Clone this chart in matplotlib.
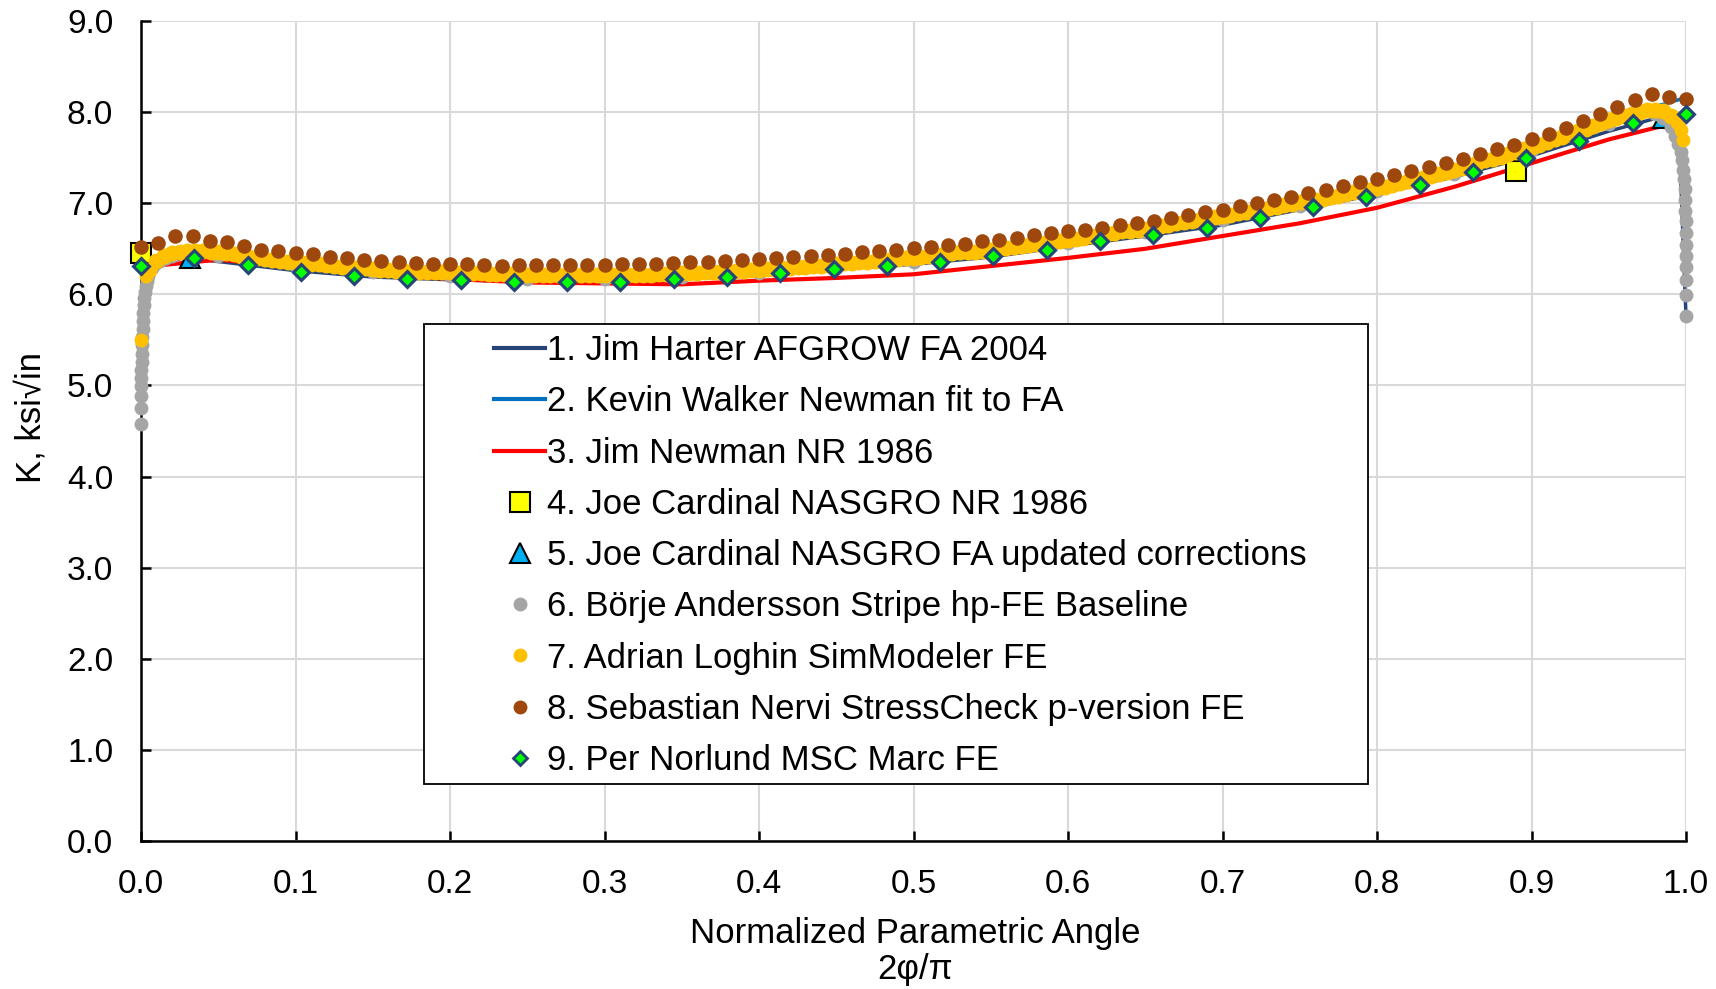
import matplotlib
matplotlib.use("Agg")
import matplotlib.pyplot as plt
from matplotlib.lines import Line2D
from matplotlib.patches import Rectangle
import numpy as np

plt.rcParams['font.family'] = ['Liberation Sans', 'DejaVu Sans']

# 1. Jim Harter AFGROW FA 2004 (line)
harter_x = [0.0, 0.01, 0.03, 0.07, 0.1, 0.15, 0.2, 0.25, 0.3, 0.35, 0.4, 0.45, 0.5,
            0.55, 0.6, 0.65, 0.7, 0.75, 0.8, 0.85, 0.9, 0.95, 0.98, 0.995, 1.0]
harter_k = [6.30, 6.36, 6.40, 6.32, 6.26, 6.19, 6.16, 6.14, 6.14, 6.17, 6.21, 6.28, 6.33,
            6.41, 6.53, 6.64, 6.76, 6.93, 7.10, 7.29, 7.52, 7.79, 7.93, 7.97, 5.76]

# 2. Kevin Walker Newman fit to FA (line)
walker_x = [0.0, 0.01, 0.03, 0.07, 0.1, 0.15, 0.2, 0.25, 0.3, 0.35, 0.4, 0.45, 0.5,
            0.55, 0.6, 0.65, 0.7, 0.75, 0.8, 0.85, 0.9, 0.95, 0.98, 1.0]
walker_k = [6.38, 6.42, 6.48, 6.43, 6.37, 6.30, 6.26, 6.24, 6.23, 6.25, 6.29, 6.35, 6.42,
            6.51, 6.62, 6.74, 6.87, 7.03, 7.19, 7.38, 7.63, 7.92, 8.06, 8.16]

# 3. Jim Newman NR 1986 (line)
newman_x = [0.0, 0.05, 0.1, 0.15, 0.2, 0.25, 0.3, 0.35, 0.4, 0.45, 0.5, 0.55, 0.6,
            0.65, 0.7, 0.75, 0.8, 0.85, 0.9, 0.95, 0.99]
newman_k = [6.30, 6.38, 6.30, 6.22, 6.17, 6.13, 6.12, 6.11, 6.15, 6.18, 6.22, 6.31, 6.40,
            6.50, 6.64, 6.78, 6.95, 7.18, 7.44, 7.70, 7.87]

# 4. Joe Cardinal NASGRO NR 1986
nasgro_nr_x = [0.0, 0.89]
nasgro_nr_k = [6.45, 7.35]

# 5. Joe Cardinal NASGRO FA updated corrections
nasgro_fa_x = [0.032, 0.985]
nasgro_fa_k = [6.40, 7.93]

# 6. Borje Andersson Stripe hp-FE Baseline
stripe_x = [0.0, 0.0, 0.0, 0.0001, 0.0002, 0.0003, 0.0004, 0.0005, 0.0006, 0.0008,
            0.001, 0.0012, 0.0015, 0.0018, 0.0022, 0.0026, 0.003, 0.0036, 0.0044, 0.0055,
            0.007, 0.009, 0.012, 0.016, 0.02,
            0.05, 0.1, 0.15, 0.2, 0.25, 0.3, 0.35, 0.4, 0.45, 0.5, 0.55, 0.6, 0.65, 0.7,
            0.75, 0.8, 0.85, 0.9, 0.95,
            0.98, 0.985, 0.99, 0.993, 0.995, 0.9965, 0.9975, 0.9982, 0.9987, 0.9991,
            0.9994, 0.9996, 0.9997, 0.9998, 0.9999, 1.0, 1.0, 1.0, 1.0, 1.0]
stripe_k = [4.58, 4.75, 4.88, 4.99, 5.08, 5.17, 5.26, 5.35, 5.44, 5.53,
            5.62, 5.71, 5.80, 5.88, 5.96, 6.03, 6.09, 6.15, 6.20, 6.25,
            6.29, 6.33, 6.37, 6.40, 6.42,
            6.42, 6.31, 6.24, 6.20, 6.17, 6.17, 6.19, 6.23, 6.29, 6.36, 6.45, 6.56, 6.68, 6.82,
            6.97, 7.13, 7.32, 7.58, 7.87,
            7.98, 7.93, 7.84, 7.74, 7.65, 7.56, 7.47, 7.37, 7.27, 7.16,
            7.04, 6.92, 6.80, 6.67, 6.54, 6.42, 6.30, 6.16, 5.99, 5.76]

# 7. Adrian Loghin SimModeler FE (dense, 0.005 step from 0.005 to 0.995)
simmod_x = np.linspace(0.005, 0.995, 199)
simmod_k = [6.27, 6.37, 6.42, 6.45, 6.47, 6.48, 6.48, 6.48, 6.47, 6.46,
            6.45, 6.44, 6.42, 6.41, 6.40, 6.39, 6.38, 6.37, 6.36, 6.35,
            6.34, 6.33, 6.33, 6.32, 6.31, 6.30, 6.30, 6.29, 6.29, 6.28,
            6.27, 6.27, 6.26, 6.26, 6.25, 6.25, 6.25, 6.24, 6.24, 6.24,
            6.23, 6.23, 6.23, 6.23, 6.22, 6.22, 6.22, 6.22, 6.21, 6.21,
            6.21, 6.21, 6.21, 6.21, 6.21, 6.21, 6.21, 6.21, 6.21, 6.21,
            6.21, 6.21, 6.21, 6.21, 6.21, 6.21, 6.22, 6.22, 6.22, 6.23,
            6.23, 6.23, 6.24, 6.24, 6.25, 6.25, 6.26, 6.26, 6.27, 6.27,
            6.28, 6.28, 6.29, 6.29, 6.30, 6.30, 6.31, 6.31, 6.32, 6.33,
            6.34, 6.34, 6.35, 6.36, 6.37, 6.37, 6.38, 6.39, 6.40, 6.40,
            6.41, 6.42, 6.43, 6.44, 6.45, 6.46, 6.46, 6.47, 6.48, 6.49,
            6.50, 6.51, 6.52, 6.53, 6.54, 6.55, 6.56, 6.58, 6.59, 6.60,
            6.61, 6.62, 6.64, 6.65, 6.66, 6.67, 6.69, 6.70, 6.71, 6.72,
            6.74, 6.75, 6.76, 6.78, 6.79, 6.80, 6.82, 6.83, 6.85, 6.86,
            6.87, 6.89, 6.90, 6.92, 6.93, 6.95, 6.96, 6.98, 6.99, 7.01,
            7.02, 7.04, 7.05, 7.07, 7.08, 7.10, 7.12, 7.13, 7.15, 7.17,
            7.18, 7.20, 7.22, 7.24, 7.26, 7.28, 7.30, 7.32, 7.34, 7.36,
            7.39, 7.42, 7.44, 7.47, 7.49, 7.51, 7.54, 7.56, 7.59, 7.62,
            7.64, 7.67, 7.70, 7.73, 7.76, 7.79, 7.82, 7.85, 7.88, 7.91,
            7.93, 7.96, 7.98, 8.00, 8.02, 8.02, 8.01, 7.96, 7.89]
simmod_end_x = [0.0, 0.0035, 0.997, 0.998]
simmod_end_k = [5.50, 6.20, 7.80, 7.69]

# 8. Sebastian Nervi StressCheck p-version FE (1 degree steps)
stresscheck_x = np.linspace(0.0, 1.0, 91)
stresscheck_k = [6.52, 6.56, 6.64, 6.64, 6.59, 6.57, 6.53, 6.49, 6.48, 6.45,
                 6.44, 6.41, 6.40, 6.38, 6.37, 6.36, 6.34, 6.33, 6.33, 6.33,
                 6.32, 6.31, 6.32, 6.32, 6.32, 6.32, 6.32, 6.32, 6.33, 6.33,
                 6.33, 6.34, 6.35, 6.36, 6.37, 6.38, 6.39, 6.40, 6.41, 6.42,
                 6.43, 6.44, 6.46, 6.48, 6.49, 6.51, 6.52, 6.54, 6.55, 6.58,
                 6.60, 6.62, 6.65, 6.67, 6.69, 6.71, 6.73, 6.76, 6.78, 6.81,
                 6.84, 6.87, 6.90, 6.93, 6.97, 7.00, 7.03, 7.07, 7.11, 7.15,
                 7.19, 7.23, 7.27, 7.31, 7.35, 7.40, 7.44, 7.49, 7.54, 7.59,
                 7.64, 7.70, 7.76, 7.83, 7.90, 7.98, 8.06, 8.13, 8.20, 8.17,
                 8.14]

# 9. Per Norlund MSC Marc FE
marc_x = np.linspace(0.0, 1.0, 30)
marc_k = [6.31, 6.40, 6.32, 6.25, 6.20, 6.17, 6.16, 6.14, 6.14, 6.14,
          6.17, 6.19, 6.23, 6.28, 6.31, 6.36, 6.42, 6.49, 6.58, 6.65,
          6.73, 6.84, 6.96, 7.07, 7.20, 7.34, 7.50, 7.68, 7.88, 7.98]

labels = ["1. Jim Harter AFGROW FA 2004",
          "2. Kevin Walker Newman fit to FA",
          "3. Jim Newman NR 1986",
          "4. Joe Cardinal NASGRO NR 1986",
          "5. Joe Cardinal NASGRO FA updated corrections",
          "6. Börje Andersson Stripe hp-FE Baseline",
          "7. Adrian Loghin SimModeler FE",
          "8. Sebastian Nervi StressCheck p-version FE",
          "9. Per Norlund MSC Marc FE"]

c_navy = '#264478'
c_blue = '#0070C0'
c_red = '#FF0000'
c_yellow = '#FFFF00'
c_cyan = '#00B0F0'
c_gray = '#A5A5A5'
c_orange = '#FFC000'
c_brown = '#9E480E'
c_green = '#00FF00'

fig = plt.figure(figsize=(17.16, 9.89), dpi=100)
ax = fig.add_axes([141 / 1716, 1 - 841 / 989, 1545 / 1716, 820 / 989])

ax.plot(harter_x, harter_k, color=c_navy, lw=2.5, zorder=2, clip_on=False)
ax.plot(walker_x, walker_k, color=c_blue, lw=2.5, zorder=2.1, clip_on=False)
ax.plot(newman_x, newman_k, color=c_red, lw=3, zorder=2.2, clip_on=False)
ax.plot(nasgro_nr_x, nasgro_nr_k, ls='none', marker='s', ms=15, mfc=c_yellow,
        mec='black', mew=1.5, zorder=2.3, clip_on=False)
ax.plot(nasgro_fa_x, nasgro_fa_k, ls='none', marker='^', ms=15, mfc=c_cyan,
        mec='black', mew=1.5, zorder=2.4, clip_on=False)
ax.plot(stripe_x, stripe_k, ls='none', marker='o', ms=10, mfc=c_gray, mec='none',
        zorder=2.5, clip_on=False)
ax.plot(simmod_x, simmod_k, ls='none', marker='o', ms=11.5, mfc=c_orange, mec='none',
        zorder=2.6, clip_on=False)
ax.plot(simmod_end_x, simmod_end_k, ls='none', marker='o', ms=10, mfc=c_orange,
        mec='none', zorder=2.6, clip_on=False)
ax.plot(stresscheck_x, stresscheck_k, ls='none', marker='o', ms=10.5, mfc=c_brown,
        mec='none', zorder=2.7, clip_on=False)
ax.plot(marc_x, marc_k, ls='none', marker='D', ms=8, mfc=c_green, mec=c_navy,
        mew=2.2, zorder=2.8, clip_on=False)

ax.set_xlim(0, 1)
ax.set_ylim(0, 9)
ax.set_xticks(np.arange(0, 1.01, 0.1))
ax.set_yticks(np.arange(0, 9.01, 1.0))
ax.xaxis.set_major_formatter(matplotlib.ticker.FormatStrFormatter('%.1f'))
ax.yaxis.set_major_formatter(matplotlib.ticker.FormatStrFormatter('%.1f'))
ax.grid(True, color='#D9D9D9', lw=1.5, zorder=0)
ax.set_axisbelow(True)
for s in ['top', 'right']:
    ax.spines[s].set_visible(False)
for s in ['left', 'bottom']:
    ax.spines[s].set_linewidth(1.8)
    ax.spines[s].set_zorder(1.5)
ax.tick_params(direction='in', length=7, width=1.8, pad=20, labelsize=24)

# two-line x axis title
fig.text(915 / 1716, 1 - 933 / 989, "Normalized Parametric Angle", fontsize=25,
         ha='center', va='center')
fig.text(915 / 1716, 1 - 970 / 989, "2φ/π", fontsize=25, ha='center', va='center')
ax.set_ylabel("K, ksi√in", fontsize=25)
ax.yaxis.set_label_coords(-0.0606, 0.516)

handles = [Line2D([], [], color=c_navy, lw=3),
           Line2D([], [], color=c_blue, lw=3),
           Line2D([], [], color=c_red, lw=3),
           Line2D([], [], ls='none', marker='s', ms=14, mfc=c_yellow, mec='black', mew=1.5),
           Line2D([], [], ls='none', marker='^', ms=14, mfc=c_cyan, mec='black', mew=1.5),
           Line2D([], [], ls='none', marker='o', ms=10, mfc=c_gray, mec='none'),
           Line2D([], [], ls='none', marker='o', ms=10, mfc=c_orange, mec='none'),
           Line2D([], [], ls='none', marker='o', ms=10, mfc=c_brown, mec='none'),
           Line2D([], [], ls='none', marker='D', ms=7.5, mfc=c_green, mec=c_navy, mew=2)]

box = Rectangle((0.183, 0.0695), 0.611, 0.561, transform=ax.transAxes,
                facecolor='white', edgecolor='black', lw=1.3, zorder=4)
ax.add_patch(box)
leg = ax.legend(handles, labels, loc='upper left', bbox_to_anchor=(0.2284, 0.618),
                frameon=False, fontsize=25, handlelength=1.48, handletextpad=0.05,
                labelspacing=0.525, borderpad=0, borderaxespad=0)
leg.set_zorder(5)

fig.savefig('out.png', dpi=100)
